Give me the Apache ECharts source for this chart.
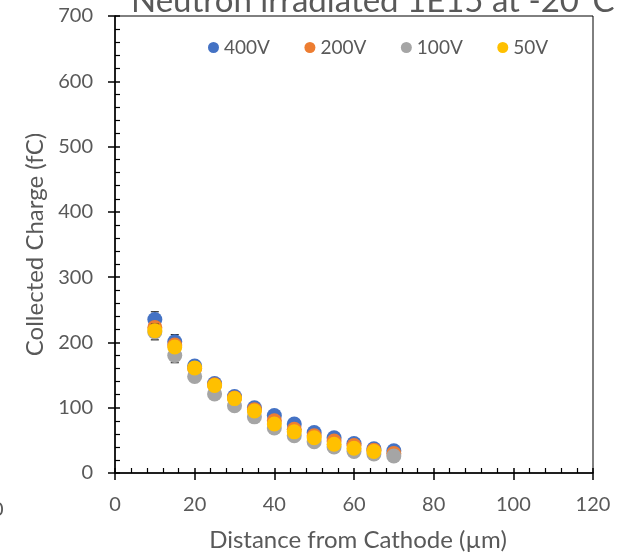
<!DOCTYPE html>
<html>
<head>
<meta charset="utf-8">
<script src="https://cdn.jsdelivr.net/npm/echarts@6/dist/echarts.min.js"></script>
<style>
  html, body { margin: 0; padding: 0; background: #fff; }
  #chart { width: 617px; height: 557px; }
</style>
</head>
<body>
<div id="chart"></div>
<script>
const distance = [10, 15, 20, 25, 30, 35, 40, 45, 50, 55, 60, 65, 70];
const v400 = [235, 201, 164, 137, 117, 100, 88, 75, 62, 54, 45, 37, 34];
const v200 = [223, 196, 160, 135, 115, 97, 80, 67, 57, 49, 42, 35, 30];
const v100 = [216, 180, 148, 121, 103, 86, 69, 57, 48, 40, 33, 29, 26];
const v50 = [218, 193, 161, 134, 114, 95, 75, 63, 54, 44, 38, 33, null];
const e400 = [12, 11, 8, 5, 4, 4, 3, 3, 3, 2, 2, 2, 2];
const e200 = [9, 8, 6, 5, 4, 4, 3, 3, 2, 2, 2, 2, 2];
const e100 = [12, 11, 7, 5, 4, 4, 3, 3, 2, 2, 2, 2, 2];
const e50 = [8, 7, 6, 5, 4, 3, 3, 3, 2, 2, 2, 2, null];
const seriesNames = ['400V', '200V', '100V', '50V'];
const colors = ['#4472C4', '#ED7D31', '#A5A5A5', '#FFC000'];
const xTicks = [0, 20, 40, 60, 80, 100, 120];
const yTicks = [0, 100, 200, 300, 400, 500, 600, 700];

const font = 'Lato';
const textColor = '#595959';

function points(vals) {
    return distance.map((d, i) => vals[i] == null ? null : [d, vals[i]]).filter(p => p);
}
function errPoints(vals, errs) {
    return distance.map((d, i) => vals[i] == null ? null : [d, vals[i], errs[i]]).filter(p => p);
}

function renderError(params, api) {
    let x = api.value(0);
    let y = api.value(1);
    let e = api.value(2);
    let top = api.coord([x, y + e]);
    let bot = api.coord([x, y - e]);
    let w = 4;
    let style = { stroke: '#262626', lineWidth: 1.2 };
    return {
        type: 'group',
        children: [
            { type: 'line', shape: { x1: top[0], y1: top[1], x2: bot[0], y2: bot[1] }, style: style },
            { type: 'line', shape: { x1: top[0] - w, y1: top[1], x2: top[0] + w, y2: top[1] }, style: style },
            { type: 'line', shape: { x1: bot[0] - w, y1: bot[1], x2: bot[0] + w, y2: bot[1] }, style: style }
        ]
    };
}

const values = [v400, v200, v100, v50];
const errors = [e400, e200, e100, e50];

let series = [];
values.forEach((vals, i) => {
    series.push({
        type: 'custom',
        name: seriesNames[i] + ' err',
        renderItem: renderError,
        data: errPoints(vals, errors[i]),
        z: 2 + i * 2,
        silent: true
    });
    series.push({
        type: 'scatter',
        name: seriesNames[i],
        data: points(vals),
        symbolSize: 15,
        itemStyle: { color: colors[i], opacity: 1 },
        z: 3 + i * 2
    });
});

const chart = echarts.init(document.getElementById('chart'));
chart.setOption({
    animation: false,
    backgroundColor: '#fff',
    textStyle: { fontFamily: font },
    graphic: [{
        type: 'text',
        left: 131,
        top: -15,
        style: { text: 'Neutron irradiated 1E15 at -20°C', font: '33px ' + font, fill: textColor }
    }, {
        type: 'text',
        left: -8,
        top: 500,
        style: { text: '0', font: '20px ' + font, fill: textColor }
    }],
    legend: {
        data: seriesNames,
        top: 33,
        left: 203,
        icon: 'circle',
        itemWidth: 11,
        itemHeight: 11,
        itemGap: 34.5,
        textStyle: { color: textColor, fontSize: 19, fontFamily: font }
    },
    grid: {
        left: 115,
        right: 24,
        top: 16,
        bottom: 84,
        show: true,
        borderColor: '#000',
        borderWidth: 1,
        backgroundColor: 'transparent'
    },
    xAxis: [{
        type: 'value',
        min: xTicks[0],
        max: xTicks[xTicks.length - 1],
        interval: 20,
        position: 'bottom',
        name: 'Distance from Cathode (µm)',
        nameLocation: 'middle',
        nameGap: 55,
        nameTextStyle: { color: textColor, fontSize: 24, fontFamily: font, padding: [0, 0, 0, 8] },
        axisLine: { show: true, lineStyle: { color: '#000', width: 1.5 } },
        axisTick: { show: true, inside: true, length: 5, lineStyle: { color: '#000', width: 1.5 } },
        minorTick: { show: true, splitNumber: 5, length: 5, lineStyle: { color: '#000', width: 1.2 } },
        splitLine: { show: false },
        axisLabel: { color: textColor, fontSize: 20, margin: 22, fontFamily: font }
    }, {
        type: 'value',
        min: xTicks[0],
        max: xTicks[xTicks.length - 1],
        interval: 20,
        position: 'bottom',
        axisLine: { show: false },
        axisTick: { show: true, inside: false, length: 7, lineStyle: { color: '#000', width: 1.5 } },
        splitLine: { show: false },
        axisLabel: { show: false }
    }],
    yAxis: [{
        type: 'value',
        min: yTicks[0],
        max: yTicks[yTicks.length - 1],
        interval: 100,
        position: 'left',
        name: 'Collected Charge (fC)',
        nameLocation: 'middle',
        nameGap: 68,
        nameTextStyle: { color: textColor, fontSize: 24, fontFamily: font },
        axisLine: { show: true, lineStyle: { color: '#000', width: 1.5 } },
        axisTick: { show: true, inside: true, length: 5, lineStyle: { color: '#000', width: 1.5 } },
        minorTick: { show: true, splitNumber: 5, length: 5, lineStyle: { color: '#000', width: 1.2 } },
        splitLine: { show: false },
        axisLabel: { color: textColor, fontSize: 20, margin: 22, fontFamily: font }
    }, {
        type: 'value',
        min: yTicks[0],
        max: yTicks[yTicks.length - 1],
        interval: 100,
        position: 'left',
        axisLine: { show: false },
        axisTick: { show: true, inside: false, length: 7, lineStyle: { color: '#000', width: 1.5 } },
        splitLine: { show: false },
        axisLabel: { show: false }
    }],
    series: series
});
</script>
</body>
</html>
